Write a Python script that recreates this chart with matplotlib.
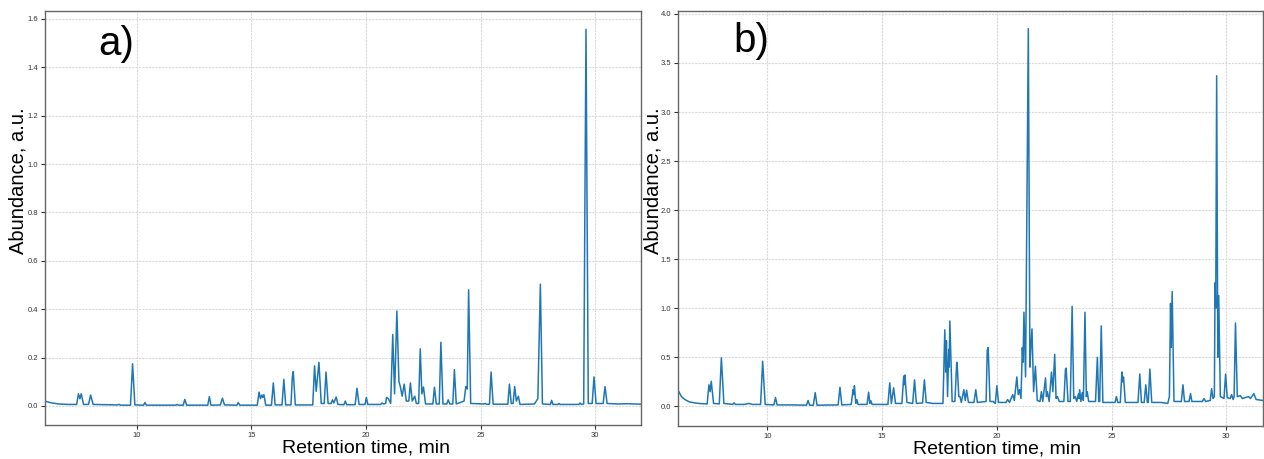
import matplotlib
matplotlib.use("Agg")
import matplotlib.pyplot as plt
import numpy as np

plt.rcParams['font.family'] = ['Liberation Sans', 'DejaVu Sans']

# ---- Panel a: retention time (min) / abundance (a.u.) vertices
rt_a = [6.0, 6.1, 6.3, 6.6, 7.0, 7.38, 7.46, 7.52, 7.58, 7.68, 7.9, 7.99, 8.1, 9.15, 9.23, 9.3,
        9.73, 9.82, 9.92, 10.3, 10.36, 10.42, 11.7, 11.76, 11.82, 12.03, 12.1, 12.18, 13.1, 13.17,
        13.24, 13.65, 13.74, 13.83, 14.37, 14.43, 14.5, 15.26, 15.34, 15.4, 15.46, 15.5, 15.55,
        15.63, 15.88, 15.96, 16.04, 16.34, 16.42, 16.5, 16.73, 16.79, 16.83, 16.92, 17.68, 17.76,
        17.83, 17.95, 18.05, 18.18, 18.26, 18.35, 18.48, 18.54, 18.6, 18.7, 18.78, 19.04, 19.1,
        19.16, 19.53, 19.61, 19.7, 19.96, 20.02, 20.08, 20.64, 20.7, 20.76, 20.86, 20.9, 20.98,
        21.08, 21.17, 21.25, 21.35, 21.44, 21.5, 21.58, 21.67, 21.76, 21.87, 21.94, 22.02, 22.13,
        22.2, 22.3, 22.37, 22.44, 22.51, 22.6, 22.92, 22.99, 23.07, 23.2, 23.27, 23.36, 23.53,
        23.59, 23.66, 23.79, 23.86, 23.94, 24.28, 24.36, 24.42, 24.48, 24.57, 25.15, 25.2, 25.26,
        25.39, 25.46, 25.55, 26.19, 26.26, 26.34, 26.42, 26.49, 26.56, 26.65, 26.72, 27.35, 27.5,
        27.61, 27.7, 28.05, 28.1, 28.16, 28.38, 28.42, 28.47, 29.29, 29.34, 29.4, 29.5, 29.6,
        29.7, 29.87, 29.95, 30.04, 30.35, 30.43, 30.52, 31.0, 31.4, 32.0]
abund_a = [0.02, 0.017, 0.012, 0.008, 0.006, 0.006, 0.05, 0.03, 0.05, 0.006, 0.006, 0.045, 0.006,
           0.004, 0.006, 0.003, 0.003, 0.174, 0.004, 0.003, 0.014, 0.003, 0.003, 0.006, 0.003,
           0.003, 0.027, 0.003, 0.003, 0.038, 0.003, 0.004, 0.032, 0.004, 0.003, 0.014, 0.003,
           0.003, 0.057, 0.03, 0.045, 0.035, 0.046, 0.003, 0.003, 0.095, 0.004, 0.004, 0.11, 0.004,
           0.004, 0.12, 0.142, 0.004, 0.004, 0.165, 0.06, 0.18, 0.01, 0.01, 0.14, 0.01, 0.01, 0.025,
           0.012, 0.037, 0.006, 0.005, 0.02, 0.005, 0.005, 0.073, 0.006, 0.006, 0.035, 0.006, 0.006,
           0.012, 0.008, 0.01, 0.035, 0.03, 0.01, 0.295, 0.05, 0.392, 0.1, 0.08, 0.04, 0.09, 0.02,
           0.02, 0.095, 0.02, 0.04, 0.01, 0.01, 0.236, 0.05, 0.078, 0.008, 0.008, 0.077, 0.008,
           0.008, 0.263, 0.008, 0.008, 0.025, 0.008, 0.008, 0.15, 0.008, 0.02, 0.08, 0.07, 0.48,
           0.01, 0.008, 0.01, 0.007, 0.007, 0.14, 0.007, 0.007, 0.09, 0.01, 0.01, 0.08, 0.02, 0.04,
           0.006, 0.008, 0.03, 0.503, 0.008, 0.006, 0.023, 0.006, 0.006, 0.01, 0.006, 0.006, 0.012,
           0.006, 0.008, 1.557, 0.01, 0.01, 0.12, 0.01, 0.01, 0.08, 0.01, 0.008, 0.009, 0.007]

# ---- Panel b
rt_b = [6.0, 6.1, 6.25, 6.4, 6.6, 6.84, 7.1, 7.37, 7.45, 7.5, 7.55, 7.65, 7.9, 7.99, 8.1, 8.48,
        8.54, 8.6, 9.0, 9.18, 9.35, 9.7, 9.79, 9.9, 10.28, 10.35, 10.42, 11.0, 11.7, 11.77, 11.84,
        12.0, 12.08, 12.16, 13.08, 13.16, 13.24, 13.65, 13.73, 13.76, 13.79, 13.85, 13.89, 13.95,
        14.34, 14.41, 14.46, 14.5, 14.56, 15.25, 15.33, 15.4, 15.5, 15.58, 15.86, 15.94, 15.96,
        15.99, 16.08, 16.33, 16.41, 16.49, 16.76, 16.84, 16.92, 17.2, 17.65, 17.73, 17.77, 17.8,
        17.85, 17.9, 17.92, 17.95, 18.05, 18.17, 18.25, 18.28, 18.34, 18.39, 18.45, 18.56, 18.62,
        18.68, 18.76, 19.0, 19.08, 19.15, 19.53, 19.58, 19.62, 19.7, 19.83, 19.93, 20.0, 20.07,
        20.4, 20.47, 20.55, 20.69, 20.76, 20.87, 20.93, 20.99, 21.05, 21.11, 21.14, 21.18, 21.25,
        21.37, 21.44, 21.48, 21.53, 21.6, 21.68, 21.76, 21.88, 21.94, 22.0, 22.12, 22.16, 22.2,
        22.28, 22.38, 22.44, 22.52, 22.58, 22.64, 22.72, 22.92, 22.99, 23.02, 23.1, 23.2, 23.28,
        23.35, 23.42, 23.48, 23.56, 23.58, 23.61, 23.66, 23.72, 23.77, 23.84, 23.9, 23.94, 24.0,
        24.3, 24.38, 24.44, 24.48, 24.55, 24.62, 25.15, 25.21, 25.27, 25.38, 25.45, 25.48, 25.52,
        25.6, 25.76, 26.15, 26.23, 26.3, 26.42, 26.49, 26.56, 26.6, 26.67, 26.75, 27.15, 27.45,
        27.52, 27.57, 27.6, 27.64, 27.72, 28.04, 28.11, 28.18, 28.38, 28.44, 28.5, 28.96, 29.03,
        29.1, 29.3, 29.36, 29.42, 29.48, 29.51, 29.54, 29.58, 29.63, 29.67, 29.74, 29.9, 29.97,
        30.04, 30.17, 30.23, 30.3, 30.34, 30.4, 30.48, 30.61, 30.7, 30.97, 31.05, 31.2, 31.3, 31.6]
abund_b = [0.18, 0.165, 0.1, 0.07, 0.045, 0.035, 0.028, 0.025, 0.22, 0.15, 0.255, 0.03, 0.025,
           0.495, 0.03, 0.02, 0.035, 0.02, 0.02, 0.03, 0.02, 0.02, 0.46, 0.02, 0.015, 0.09, 0.015,
           0.015, 0.012, 0.06, 0.012, 0.012, 0.14, 0.012, 0.015, 0.195, 0.015, 0.02, 0.17, 0.12,
           0.21, 0.03, 0.07, 0.02, 0.02, 0.145, 0.03, 0.06, 0.02, 0.02, 0.24, 0.03, 0.19, 0.03,
           0.03, 0.31, 0.22, 0.32, 0.04, 0.03, 0.27, 0.03, 0.035, 0.27, 0.04, 0.03, 0.03, 0.78,
           0.35, 0.67, 0.1, 0.58, 0.4, 0.87, 0.05, 0.05, 0.45, 0.38, 0.1, 0.1, 0.04, 0.17, 0.06,
           0.165, 0.04, 0.04, 0.17, 0.04, 0.05, 0.57, 0.6, 0.05, 0.05, 0.03, 0.21, 0.04, 0.04, 0.07,
           0.04, 0.12, 0.06, 0.3, 0.12, 0.17, 0.08, 0.6, 0.45, 0.96, 0.3, 3.85, 0.4, 0.6, 0.79,
           0.15, 0.41, 0.06, 0.05, 0.15, 0.05, 0.29, 0.1, 0.15, 0.05, 0.35, 0.15, 0.53, 0.08, 0.1,
           0.05, 0.05, 0.38, 0.39, 0.05, 0.05, 1.02, 0.08, 0.1, 0.05, 0.13, 0.08, 0.17, 0.05, 0.14,
           0.06, 0.96, 0.1, 0.15, 0.05, 0.05, 0.5, 0.05, 0.05, 0.82, 0.04, 0.04, 0.1, 0.04, 0.04,
           0.35, 0.25, 0.3, 0.04, 0.04, 0.04, 0.33, 0.04, 0.04, 0.22, 0.04, 0.04, 0.38, 0.04, 0.04,
           0.03, 0.1, 1.05, 0.6, 1.17, 0.05, 0.05, 0.22, 0.05, 0.05, 0.13, 0.05, 0.05, 0.08, 0.05,
           0.06, 0.18, 0.08, 0.1, 1.26, 1.0, 3.37, 0.5, 1.13, 0.1, 0.08, 0.33, 0.09, 0.08, 0.12,
           0.07, 0.1, 0.85, 0.1, 0.11, 0.08, 0.1, 0.08, 0.13, 0.07, 0.06]

xlabel_text = "Retention time, min"
ylabel_text = "Abundance, a.u."
panel_labels = ["a)", "b)"]

W, H = 1264, 459
fig = plt.figure(figsize=(W / 100, H / 100), dpi=100)

def px_axes(l, r, t, b):
    return fig.add_axes([l / W, 1 - b / H, (r - l) / W, (b - t) / H])

ax_a = px_axes(45, 641, 11, 425)
ax_b = px_axes(678, 1263, 11, 426)

line_color = '#1f77b4'
for ax, rt, ab, lab, xlim, ylim, yticks, xlc, ylx, yly, lpos in [
        (ax_a, rt_a, abund_a, panel_labels[0], (6, 32), (-0.079, 1.633),
         np.arange(0, 1.61, 0.2), 0.539, -0.030, 0.59, (0.09, 0.894)),
        (ax_b, rt_b, abund_b, panel_labels[1], (6.1, 31.6), (-0.2, 4.03),
         np.arange(0, 4.01, 0.5), 0.545, -0.027, 0.59, (0.094, 0.901))]:
    ax.plot(rt, ab, color=line_color, lw=1.1)
    ax.set_xlim(*xlim)
    ax.set_ylim(*ylim)
    ax.set_xticks([10, 15, 20, 25, 30])
    ax.set_yticks(yticks)
    ax.set_yticklabels([f"{v:.1f}" for v in yticks])
    ax.grid(True, color='#dadada', linestyle=(0, (2, 1)), linewidth=0.8)
    ax.set_axisbelow(True)
    ax.tick_params(labelsize=5.5, colors='#333333', length=3, width=0.8, pad=2)
    for s in ax.spines.values():
        s.set_color('#666666')
        s.set_linewidth(1.0)
    ax.set_xlabel(xlabel_text, fontsize=14, color='black')
    ax.set_ylabel(ylabel_text, fontsize=14.5, color='black')
    ax.xaxis.set_label_coords(xlc, -0.035, transform=ax.transAxes)
    ax.xaxis.label.set_va('top')
    ax.yaxis.set_label_coords(ylx, yly, transform=ax.transAxes)
    ax.text(lpos[0], lpos[1], lab, transform=ax.transAxes, fontsize=29,
            va='baseline', ha='left', color='black')

fig.savefig("out.png", dpi=100)
